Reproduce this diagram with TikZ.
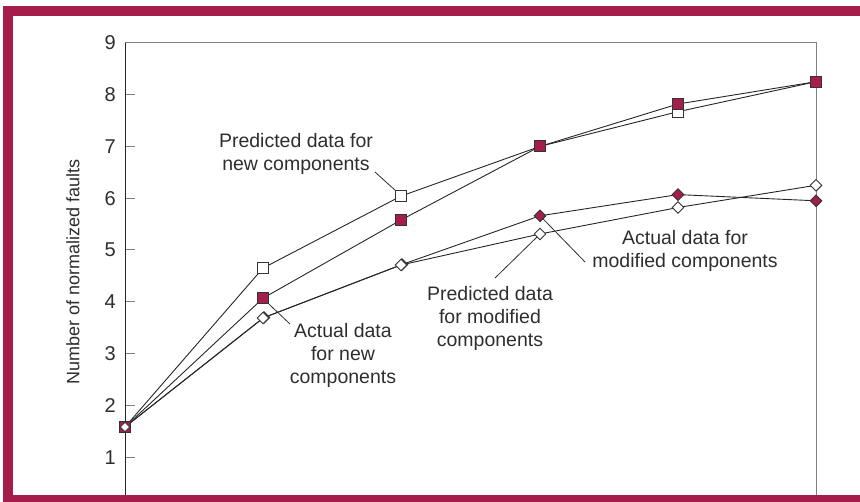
\documentclass[tikz,border=0pt]{standalone}
\usepackage{fontspec}
\setmainfont{Liberation Sans}
\usetikzlibrary{shapes.geometric}
\definecolor{maroon}{HTML}{A51E4B}
\definecolor{txt}{HTML}{2E2E2E}
\definecolor{axgray}{HTML}{7F7F7F}
\tikzset{
  dataline/.style={draw=black!85, line width=0.9pt},
  leader/.style={draw=txt, line width=0.8pt},
  osq/.style={draw=black!80, fill=white, rectangle, minimum size=11pt, inner sep=0pt, line width=0.9pt},
  fsq/.style={draw=black!80, fill=maroon, rectangle, minimum size=11pt, inner sep=0pt, line width=0.9pt},
  odia/.style={draw=black!80, fill=white, diamond, minimum size=12pt, inner sep=0pt, line width=0.9pt},
  fdia/.style={draw=black!80, fill=maroon, diamond, minimum size=12pt, inner sep=0pt, line width=0.9pt},
  lbl/.style={text=txt, align=center, inner sep=0pt, font=\fontsize{19.5}{23}\selectfont},
  ticklbl/.style={text=txt, anchor=east, inner sep=0pt, font=\fontsize{20}{22}\selectfont},
  tickmark/.style={draw=axgray, line width=1pt},
}
\begin{document}
\begin{tikzpicture}[x=1pt,y=-1pt]
\useasboundingbox (0,0) rectangle (860,502);
% frame
\fill[maroon] (3,6) rectangle (860,16);
\fill[maroon] (3,6) rectangle (13,502);
\fill[maroon] (3,495) rectangle (860,502);
% axes
\draw[axgray, line width=1pt] (125,42.8) -- (816,42.8) -- (816,495);
\foreach \k/\yy in {1/457.2,2/405.4,3/353.6,4/301.8,5/250,6/198.2,7/146.4,8/94.6,9/42.8}{
  \draw[tickmark] (125,\yy) -- (135,\yy);
  \node[ticklbl] (t\k) at (116,\yy) {\k};
}
\draw[black!85, line width=1pt] (125,42.8) -- (125,495);
\node[text=txt, rotate=90, inner sep=0pt, font=\fontsize{18}{20}\selectfont] (ylab) at (73,272) {Number of normalized faults};
% data coordinates
\coordinate (p0) at (125,427);
% predicted new
\coordinate (pn1) at (263,268.1);
\coordinate (pn2) at (401,196.1);
\coordinate (pn3) at (540,146.4);
\coordinate (pn4) at (678,111.7);
\coordinate (pn5) at (816,81.7);
% actual new
\coordinate (an1) at (263,298.2);
\coordinate (an2) at (401,220);
\coordinate (an3) at (540,146.4);
\coordinate (an4) at (678,104);
\coordinate (an5) at (816,81.7);
% predicted modified
\coordinate (pm1) at (263,318);
\coordinate (pm2) at (401,265);
\coordinate (pm3) at (540,234);
\coordinate (pm4) at (678,207.5);
\coordinate (pm5) at (816,185.3);
% actual modified
\coordinate (am1) at (264,317.5);
\coordinate (am2) at (402,264.5);
\coordinate (am3) at (540,215.8);
\coordinate (am4) at (678,194.6);
\coordinate (am5) at (816,200.8);
% lines
\draw[dataline] (p0) -- (pn1) -- (pn2) -- (pn3) -- (pn4) -- (pn5);
\draw[dataline] (p0) -- (an1) -- (an2) -- (an3) -- (an4) -- (an5);
\draw[dataline] (p0) -- (pm1) -- (pm2) -- (pm3) -- (pm4) -- (pm5);
\draw[dataline] (p0) -- (am1) -- (am2) -- (am3) -- (am4) -- (am5);
% markers
\node[fsq] (m0) at (p0) {};
\node[odia, minimum size=10pt] (m0d) at (p0) {};
\foreach \n in {pn1,pn2,pn3,pn4}{\node[osq] (M\n) at (\n) {};}
\foreach \n in {an1,an2,an3,an4,an5}{\node[fsq] (M\n) at (\n) {};}
\foreach \n in {am1,am2,am3,am4,am5}{\node[fdia] (M\n) at (\n) {};}
\foreach \n in {pm1,pm2,pm3,pm4,pm5}{\node[odia] (M\n) at (\n) {};}
\node[fsq] (Man3b) at (an3) {};
% labels
\node[lbl] (Lpn) at (296,154) {Predicted data for\\new components};
\node[lbl] (Lan) at (343,355) {Actual data\\for new\\components};
\node[lbl] (Lpm) at (490,318) {Predicted data\\for modified\\components};
\node[lbl] (Lam) at (685,251) {Actual data for\\modified components};
% leaders
\coordinate (cpn) at (375,172);
\coordinate (can) at (290,324);
\coordinate (cpm) at (495,278);
\coordinate (cam) at (585,262);
\draw[leader] (cpn) -- (Mpn2.north west);
\draw[leader] (can) -- (Man1.south east);
\draw[leader] (cpm) -- (Mpm3.south west);
\draw[leader] (cam) -- (Mam3.south east);
\end{tikzpicture}
\end{document}
